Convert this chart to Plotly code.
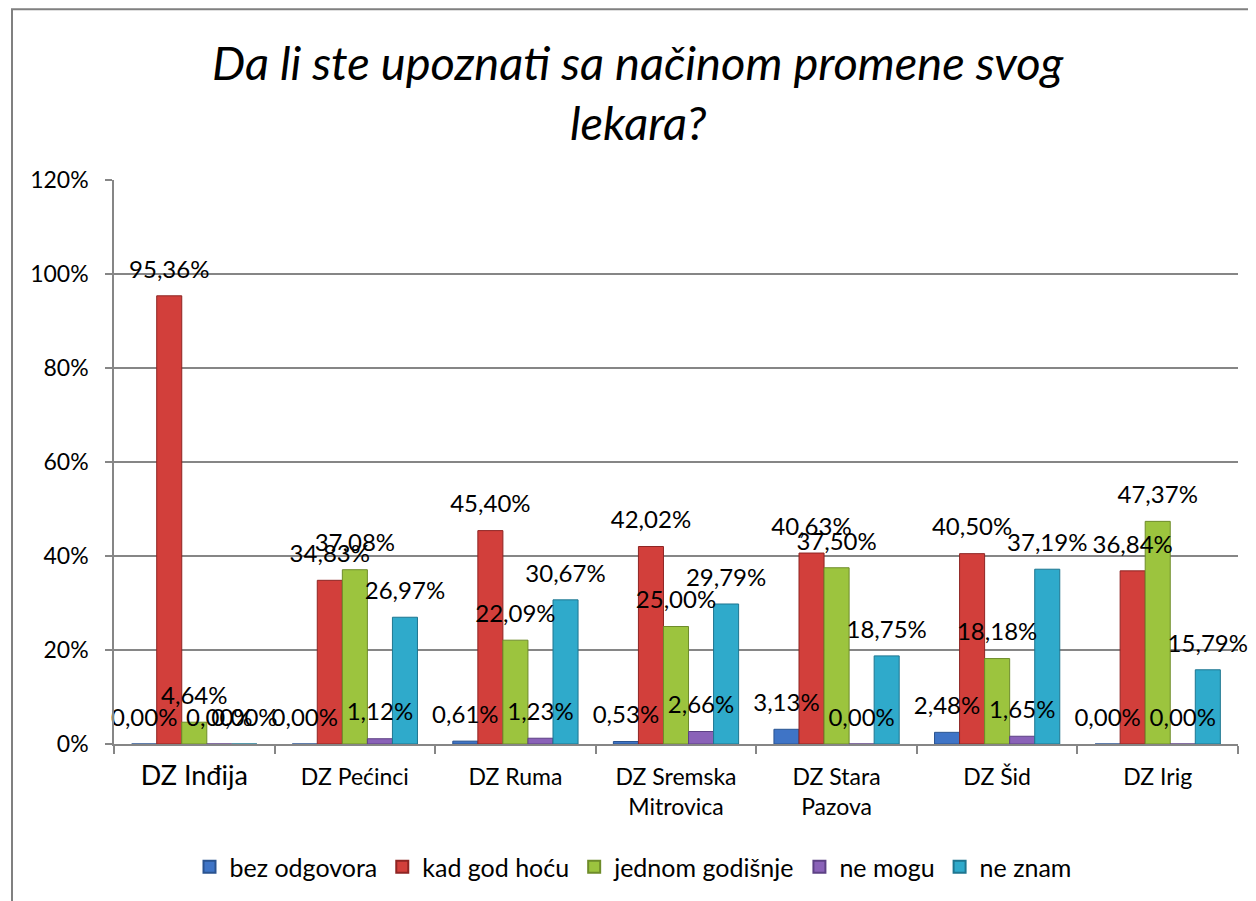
import plotly.graph_objects as go

categories = ["DZ Inđija", "DZ Pećinci", "DZ Ruma", "DZ Sremska<br>Mitrovica",
              "DZ Stara<br>Pazova", "DZ Šid", "DZ Irig"]
series_names = ["bez odgovora", "kad god hoću", "jednom godišnje", "ne mogu", "ne znam"]
bez_odgovora = [0.00, 0.00, 0.61, 0.53, 3.13, 2.48, 0.00]
kad_god_hocu = [95.36, 34.83, 45.40, 42.02, 40.63, 40.50, 36.84]
jednom_godisnje = [4.64, 37.08, 22.09, 25.00, 37.50, 18.18, 47.37]
ne_mogu = [0.00, 1.12, 1.23, 2.66, 0.00, 1.65, 0.00]
ne_znam = [0.00, 26.97, 30.67, 29.79, 18.75, 37.19, 15.79]
y_ticks = [0, 20, 40, 60, 80, 100, 120]

series_values = [bez_odgovora, kad_god_hocu, jednom_godisnje, ne_mogu, ne_znam]
colors = ["#3F74C6", "#D23F3B", "#9CC43E", "#8A62B8", "#2FAACB"]
edges = ["#2A5390", "#8E2523", "#6E8C2A", "#5D4185", "#1E7690"]

FONT = "Lato"

def fmt(v):
    return f"{v:.2f}".replace(".", ",") + "%"

fig = go.Figure()
for name, vals, c, e in zip(series_names, series_values, colors, edges):
    fig.add_trace(go.Bar(
        x=categories, y=vals, name=name,
        marker=dict(color=c, line=dict(color=e, width=1)),
    ))
for name, vals in zip(series_names, series_values):
    fig.add_trace(go.Scatter(
        x=categories, y=vals, mode="markers+text", orientation="v",
        text=[fmt(v) for v in vals], textposition="top center",
        textfont=dict(family=FONT, size=24, color="#000000"),
        marker=dict(size=18, opacity=0),
        showlegend=False, hoverinfo="skip", cliponaxis=False,
    ))

# screen geometry of the plot area (page body adds an 8px offset)
OFF = 8
X0, X1, Y0, Y1 = 114, 1238, 180, 745
W, H = 1256 - OFF, 901 - OFF
L, R, T, B = X0 - OFF, W + OFF - X1, Y0 - OFF, H + OFF - Y1

def px(x):
    return (x - X0) / (X1 - X0)

def py(y):
    return (Y1 - y) / (Y1 - Y0)

fig.update_layout(
    width=W, height=H,
    margin=dict(l=L, r=R, t=T, b=B, pad=0),
    paper_bgcolor="white", plot_bgcolor="white",
    barmode="group", bargap=0.22, bargroupgap=0,
    scattermode="group", scattergap=0.22,
    font=dict(family=FONT, size=20, color="#000000"),
    showlegend=True,
    legend=dict(orientation="h", x=px(633), y=py(867), xanchor="center", yanchor="middle",
                font=dict(family=FONT, size=25), itemwidth=30, traceorder="normal",
                itemsizing="constant"),
    xaxis=dict(showline=True, linecolor="#868686", linewidth=1.5, ticks="outside",
               tickson="boundaries", ticklen=8, tickcolor="#868686", tickwidth=1.5,
               tickfont=dict(family=FONT, size=23), showgrid=False, fixedrange=True,
               ticklabelstandoff=12),
    yaxis=dict(range=[0, 120], tickvals=y_ticks, ticktext=[f"{v}%" for v in y_ticks],
               showline=True, linecolor="#868686", linewidth=1.5, ticks="outside", ticklen=7,
               tickcolor="#868686", tickwidth=1.5, showgrid=True, gridcolor="#868686",
               gridwidth=1.5, tickfont=dict(family=FONT, size=23), zeroline=False,
               fixedrange=True, ticklabelstandoff=12),
    shapes=[dict(type="rect", xref="paper", yref="paper",
                 x0=px(12), x1=px(1300), y0=py(950), y1=py(9),
                 line=dict(color="#808080", width=2), fillcolor="rgba(0,0,0,0)", layer="below")],
    annotations=[
        dict(text="Da li ste upoznati sa načinom promene svog", xref="paper", yref="paper",
             x=px(638), y=py(62), showarrow=False, xanchor="center", yanchor="middle",
             font=dict(family=FONT, size=47, style="italic")),
        dict(text="lekara?", xref="paper", yref="paper",
             x=px(638), y=py(122), showarrow=False, xanchor="center", yanchor="middle",
             font=dict(family=FONT, size=47, style="italic")),
    ],
)
fig.update_xaxes(ticktext=["<span style='font-size:27px'>DZ Inđija</span>"] + categories[1:],
                 tickvals=categories)

fig.write_html("out.html")
